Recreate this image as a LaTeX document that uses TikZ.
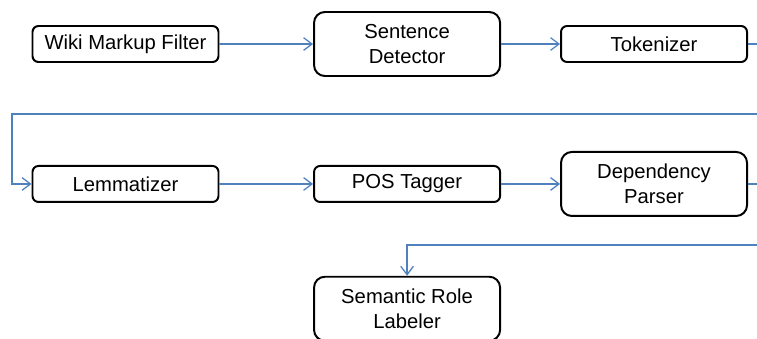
\documentclass[tikz,border=0pt]{standalone}
\usepackage{fontspec}
\setmainfont{Liberation Sans}
\usepackage{xcolor}
\usepackage{tikz}
\usetikzlibrary{arrows.meta,positioning}

\definecolor{linkblue}{RGB}{79,129,189}

\begin{document}
\begin{tikzpicture}[node distance=2.4cm, auto]
    % Define styles
    \tikzstyle{stage} = [rectangle, rounded corners=0.15cm, minimum width=4.65cm, minimum height=0.9cm, text centered, align=center, draw=black, line width=1.4pt, inner sep=0pt, font=\fontsize{14.4}{17.8}\selectfont]
    \tikzstyle{tallstage} = [stage, rounded corners=0.27cm, minimum height=1.6cm]
    \tikzstyle{flow} = [draw=linkblue, line width=0.9pt, -{Straight Barb[length=6pt,width=9pt]}]

    % Frame
    \useasboundingbox (0,0) rectangle (18.925,-8.45);
    \clip (0,0) rectangle (18.925,-8.45);

    % Nodes
    \node[stage] (filter) at (3.1375,-1.1) {Wiki Markup Filter};
    \node[tallstage, right=2.34cm of filter] (sentence) {Sentence\\Detector};
    \node[stage, right=1.475cm of sentence] (tokenizer) {Tokenizer};
    \node[stage, below=2.55cm of filter] (lemma) {Lemmatizer};
    \node[stage, right=2.34cm of lemma] (postag) {POS Tagger};
    \node[tallstage, right=1.475cm of postag] (depparse) {Dependency\\Parser};
    \node[tallstage, below=1.82cm of postag] (srl) {Semantic Role\\Labeler};

    % Turning points
    \coordinate (backA) at (19.4,-2.85);
    \coordinate (leftA) at (0.3,-2.85);
    \coordinate (backB) at (19.4,-6.125);

    % Connections
    \draw[flow] (filter) -- (sentence);
    \draw[flow] (sentence) -- (tokenizer);
    \draw[flow] (tokenizer.east) -| (backA) -- (leftA) |- (lemma.west);
    \draw[flow] (lemma) -- (postag);
    \draw[flow] (postag) -- (depparse);
    \draw[flow] (depparse.east) -| (backB) -| (srl.north);
\end{tikzpicture}
\end{document}
